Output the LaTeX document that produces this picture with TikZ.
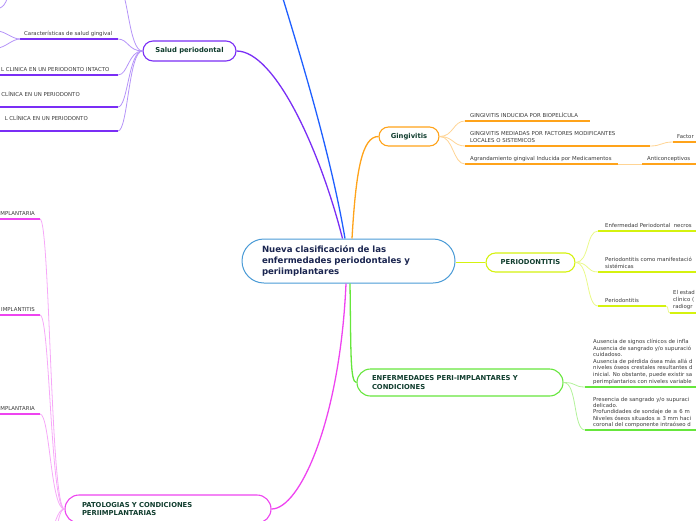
\documentclass[tikz,border=0pt]{standalone}
\usepackage{fontspec}
\setmainfont{DejaVu Sans}
\definecolor{cblue}{HTML}{4A9BD6}
\definecolor{navy}{HTML}{1A2550}
\definecolor{dgreen}{HTML}{103D2E}
\definecolor{tgray}{HTML}{3A3A3A}
\definecolor{lblue}{HTML}{1F5FFF}
\definecolor{purp}{HTML}{7A2EF5}
\definecolor{purpl}{HTML}{B594F8}
\definecolor{orng}{HTML}{FFA31A}
\definecolor{orngl}{HTML}{FFD494}
\definecolor{ygrn}{HTML}{D5F20F}
\definecolor{ygrnl}{HTML}{EAF98A}
\definecolor{grn}{HTML}{66E63C}
\definecolor{grnl}{HTML}{B2F29A}
\definecolor{mag}{HTML}{EE44F0}
\definecolor{magl}{HTML}{F6A8F8}
\begin{document}
\begin{tikzpicture}[x=1pt,y=-1pt,
  central/.style={draw=cblue, line width=1pt, fill=white, rounded corners=22pt,
    minimum width=213pt, minimum height=44pt, text width=173pt, align=left,
    text=navy, inner sep=0pt, font=\fontsize{8.6}{11.3}\selectfont\bfseries},
  topic/.style={line width=1.1pt, fill=white, inner sep=0pt, text=dgreen,
    font=\fontsize{6.8}{8.3}\selectfont\bfseries},
  lbl/.style={inner sep=0pt, text=tgray, align=left, font=\fontsize{5.4}{7}\selectfont},
  main/.style={line width=1.3pt},
  conn/.style={line width=0.8pt},
  ul/.style={line width=1.5pt}]
\useasboundingbox (0,0) rectangle (696,520);
\begin{scope}
\clip (0,0) rectangle (696,520);

% ---------- nodes ----------
\node[central] (c) at (348.5,261) {Nueva clasificación de las\\enfermedades periodontales y\\periimplantares};
\node[topic, draw=purp, minimum width=93pt, minimum height=20pt, rounded corners=10pt] (sp) at (189.5,51) {Salud periodontal};
\node[topic, draw=orng, minimum width=60pt, minimum height=19pt, rounded corners=9.5pt] (gi) at (409,136.5) {Gingivitis};
\node[topic, draw=ygrn, minimum width=89pt, minimum height=19pt, rounded corners=9.5pt] (pe) at (530.5,262.5) {PERIODONTITIS};
\node[topic, draw=grn, minimum width=206pt, minimum height=27pt, rounded corners=13.5pt, text width=176pt, align=left] (ep) at (460,382.5) {ENFERMEDADES PERI-IMPLANTARES Y\\CONDICIONES};
\node[topic, draw=mag, minimum width=206pt, minimum height=28pt, rounded corners=14pt, text width=172pt, align=left] (pa) at (168,509) {PATOLOGIAS Y CONDICIONES\\PERIIMPLANTARIAS};

% ---------- main connectors ----------
\coordinate (topend) at (281,-8);
\draw[main, lblue] ([xshift=-3.5pt]c.north) .. controls (330,150) and (297,45) .. (topend);
\draw[main, purp] ([xshift=-6pt]c.north) .. controls (320,150) and (275,51) .. (sp.east);
\draw[main, orng] ([xshift=3.5pt]c.north) .. controls (356,170) and (362,136.5) .. (gi.west);
\draw[main, ygrn] (c.east |- pe.west) -- (pe.west);
\draw[main, grn] ([xshift=1.5pt]c.south) .. controls (351,350) and (350,382.5) .. (ep.west);
\draw[main, mag] ([xshift=-2.5pt]c.south) .. controls (340,420) and (300,509) .. (pa.east);

% ---------- Salud periodontal ----------
\coordinate (s0) at (118,-14);
\coordinate (s1a) at (20,39);  \coordinate (s1b) at (118,39);
\coordinate (s2a) at (-5,75);  \coordinate (s2b) at (118,75);
\coordinate (s3a) at (-5,107); \coordinate (s3b) at (118,107);
\coordinate (s4a) at (-5,131); \coordinate (s4b) at (118,131);
\coordinate (sc1) at (-3,31);  \coordinate (sc2) at (-3,48);
\coordinate (tl1) at (-2,9);   \coordinate (tl2) at (8,-3);
\foreach \t in {s0,s1b,s2b,s3b,s4b}
  \draw[conn, purpl] (sp.west) .. controls +(-14,0) and +(10,0) .. (\t);
\foreach \u in {1,2,3,4}
  \draw[ul, purp] (s\u a) -- (s\u b);
\draw[conn, purpl] (s1a) .. controls +(-8,0) and +(8,0) .. (sc1);
\draw[conn, purpl] (s1a) .. controls +(-8,0) and +(8,0) .. (sc2);
\draw[conn, purpl] (tl1) .. controls (4,6) .. (tl2);
\node[lbl, anchor=base west] (s1t) at (24,35) {Características de salud gingival};
\node[lbl, anchor=base west] (s2t) at (1,71) {L CLINICA EN UN PERIODONTO INTACTO};
\node[lbl, anchor=base east] (s3t) at (80,96) {CLÍNICA EN UN PERIODONTO};
\node[lbl, anchor=base east] (s4t) at (88,120) {L CLÍNICA EN UN PERIODONTO};

% ---------- Gingivitis ----------
\coordinate (g1a) at (465,121); \coordinate (g1b) at (590,121);
\coordinate (g2a) at (465,146); \coordinate (g2b) at (650,146);
\coordinate (g3a) at (465,164); \coordinate (g3b) at (618,164);
\coordinate (g2ca) at (673,142); \coordinate (g2cb) at (700,142);
\coordinate (g3ca) at (642,164); \coordinate (g3cb) at (700,164);
\foreach \t in {g1a,g2a,g3a}
  \draw[conn, orngl] (gi.east) .. controls +(14,0) and +(-12,0) .. (\t);
\draw[conn, orngl] (g2b) .. controls +(12,0) and +(-12,0) .. (g2ca);
\draw[conn, orngl] (g3b) -- (g3ca);
\foreach \a/\b in {g1a/g1b,g2a/g2b,g3a/g3b,g2ca/g2cb,g3ca/g3cb}
  \draw[ul, orng] (\a) -- (\b);
\node[lbl, anchor=base west] (g1t) at (470,117) {GINGIVITIS INDUCIDA POR BIOPELÍCULA};
\node[lbl, anchor=north west] (g2t) at (470,131) {GINGIVITIS MEDIADAS POR FACTORES MODIFICANTES\\LOCALES O SISTEMICOS};
\node[lbl, anchor=base west] (g3t) at (470,160) {Agrandamiento gingival Inducida por Medicamentos};
\node[lbl, anchor=base west] (g2ct) at (677,138) {Factor};
\node[lbl, anchor=base west] (g3ct) at (647,160) {Anticonceptivos};

% ---------- Periodontitis ----------
\coordinate (p1a) at (598,231); \coordinate (p1b) at (700,231);
\coordinate (p2a) at (598,272); \coordinate (p2b) at (700,272);
\coordinate (p3a) at (598,306); \coordinate (p3b) at (666,306);
\coordinate (p3ca) at (670,313); \coordinate (p3cb) at (700,313);
\foreach \t in {p1a,p2a,p3a}
  \draw[conn, ygrnl] (pe.east) .. controls +(14,0) and +(-12,0) .. (\t);
\draw[conn, ygrnl] (p3b) .. controls +(3,0) and +(-3,0) .. (p3ca);
\foreach \a/\b in {p1a/p1b,p2a/p2b,p3a/p3b,p3ca/p3cb}
  \draw[ul, ygrn] (\a) -- (\b);
\node[lbl, anchor=base west] (p1t) at (605,227) {Enfermedad Periodontal\ \ necros};
\node[lbl, anchor=north west] (p2t) at (605,257) {Periodontitis como manifestació\\sistémicas};
\node[lbl, anchor=base west] (p3t) at (605,302) {Periodontitis};
\node[lbl, anchor=north west] (p3ct) at (673,290) {El estad\\clínico (\\radiogr};

% ---------- Enfermedades peri-implantares ----------
\coordinate (e1a) at (585,387); \coordinate (e1b) at (700,387);
\coordinate (e2a) at (585,430); \coordinate (e2b) at (700,430);
\foreach \t in {e1a,e2a}
  \draw[conn, grnl] (ep.east) .. controls +(14,0) and +(-12,0) .. (\t);
\foreach \a/\b in {e1a/e1b,e2a/e2b}
  \draw[ul, grn] (\a) -- (\b);
\node[lbl, anchor=north west, font=\fontsize{5.4}{6.6}\selectfont] (e1t) at (593,339) {Ausencia de signos clínicos de infla\\Ausencia de sangrado y/o supuració\\cuidadoso.\\Ausencia de pérdida ósea más allá d\\niveles óseos crestales resultantes d\\inicial. No obstante, puede existir sa\\perimplantarios con niveles variable};
\node[lbl, anchor=north west, font=\fontsize{5.4}{6.3}\selectfont] (e2t) at (593,397) {Presencia de sangrado y/o supuraci\\delicado.\\Profundidades de sondaje de ≥ 6 m\\Niveles óseos situados ≥ 3 mm haci\\coronal del componente intraóseo d};

% ---------- Patologias ----------
\coordinate (t1a) at (-5,219); \coordinate (t1b) at (40,219);
\coordinate (t2a) at (-5,315); \coordinate (t2b) at (40,315);
\coordinate (t3a) at (-5,414); \coordinate (t3b) at (40,414);
\coordinate (t4) at (38,580);  \coordinate (t5) at (44,640);
\foreach \t in {t1b,t2b,t3b,t4,t5}
  \draw[conn, magl] (pa.west) .. controls +(-14,0) and +(10,0) .. (\t);
\foreach \u in {1,2,3}
  \draw[ul, mag] (t\u a) -- (t\u b);
\node[lbl, anchor=base east] (t1t) at (35,215) {MPLANTARIA};
\node[lbl, anchor=base east] (t2t) at (35,311) {IMPLANTITIS};
\node[lbl, anchor=base east] (t3t) at (35,410) {MPLANTARIA};
\end{scope}
\end{tikzpicture}
\end{document}
